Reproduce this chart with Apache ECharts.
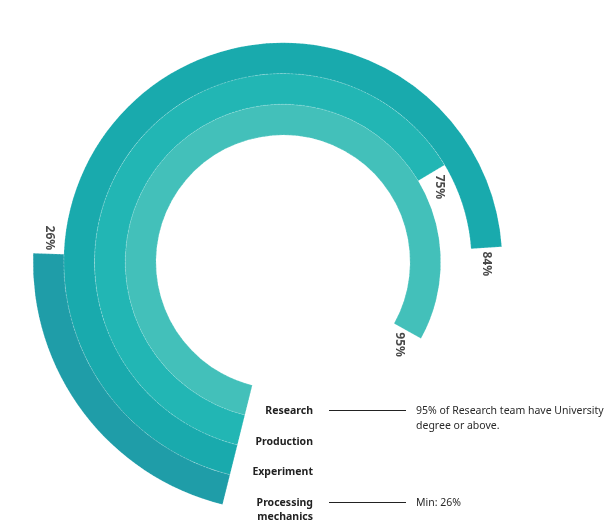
<!DOCTYPE html>
<html>
<head>
<meta charset="utf-8">
<script src="https://cdn.jsdelivr.net/npm/echarts@6/dist/echarts.min.js"></script>
<style>
  html, body { margin: 0; padding: 0; background: #ffffff; }
  #chart { width: 611px; height: 524px; }
</style>
</head>
<body>
<div id="chart"></div>
<script>
// Share of staff with a university degree or above, by team (inner ring first)
var categories = ['Research', 'Production', 'Experiment', 'Processing\nmechanics'];
var values = [95, 75, 84, 26];
var noteResearch = '95% of Research team have University\ndegree or above.';
var noteMin = 'Min: ' + Math.min.apply(null, values) + '%';

var palette = ['#43c0ba', '#22b6b4', '#19aaad', '#1f9da8'];
var FONT = '"Noto Sans", sans-serif';

// ring geometry
var CENTER = [283, 262];
var R_IN = 127, R_OUT = 250;
var ANGLE_MAX = 120;            // value units per full turn
var ring = (R_OUT - R_IN) / categories.length;

var chart = echarts.init(document.getElementById('chart'), null, { renderer: 'canvas' });

// value-label anchors: a fixed pixel gap past each bar's end, along its ring
var LABEL_GAP = 16;
var labelPoints = values.map(function (v, i) {
  var r = R_IN + ring * (i + 0.5);
  var gapDeg = LABEL_GAP / r * 180 / Math.PI;
  return { value: [i, v + gapDeg * ANGLE_MAX / 360], raw: v };
});

var labelRows = [411, 442, 472, 510];
var graphics = [];
categories.forEach(function (name, i) {
  graphics.push({
    type: 'text',
    style: {
      text: name,
      x: 313,
      y: labelRows[i],
      textAlign: 'right',
      textVerticalAlign: 'middle',
      font: 'bold 10.5px ' + FONT,
      fill: '#222',
      lineHeight: 14
    }
  });
});
graphics.push(
  { type: 'line', shape: { x1: 329, y1: 410.5, x2: 406, y2: 410.5 }, style: { stroke: '#222', lineWidth: 1 } },
  { type: 'text', style: { text: noteResearch, x: 416, y: 404, textVerticalAlign: 'top', font: '10.5px ' + FONT, fill: '#2a2a2a', lineHeight: 15 } },
  { type: 'line', shape: { x1: 329, y1: 502.5, x2: 406, y2: 502.5 }, style: { stroke: '#222', lineWidth: 1 } },
  { type: 'text', style: { text: noteMin, x: 416, y: 503, textVerticalAlign: 'middle', font: '10.5px ' + FONT, fill: '#2a2a2a' } }
);

chart.setOption({
  animation: false,
  polar: { center: CENTER, radius: [R_IN, R_OUT] },
  angleAxis: {
    type: 'value',
    min: 0,
    max: ANGLE_MAX,
    startAngle: 256,
    clockwise: true,
    axisLine: { show: false },
    axisTick: { show: false },
    axisLabel: { show: false },
    splitLine: { show: false }
  },
  radiusAxis: {
    type: 'category',
    data: categories,
    axisLine: { show: false },
    axisTick: { show: false },
    axisLabel: { show: false },
    splitLine: { show: false }
  },
  series: [{
    type: 'bar',
    coordinateSystem: 'polar',
    barCategoryGap: '0%',
    data: values.map(function (v, i) {
      return { value: v, itemStyle: { color: palette[i] } };
    }),
    itemStyle: {
      borderColor: 'rgba(255,255,255,0.35)',
      borderWidth: 0.6,
      borderType: 'dashed'
    }
  }, {
    type: 'scatter',
    coordinateSystem: 'polar',
    symbolSize: 0,
    silent: true,
    data: labelPoints,
    label: {
      show: true,
      position: 'inside',
      rotate: -90,
      formatter: function (p) { return p.data.raw + '%'; },
      fontFamily: FONT,
      fontWeight: 'bold',
      fontSize: 12,
      color: '#1a1a1a'
    }
  }],
  graphic: graphics
});
</script>
</body>
</html>
